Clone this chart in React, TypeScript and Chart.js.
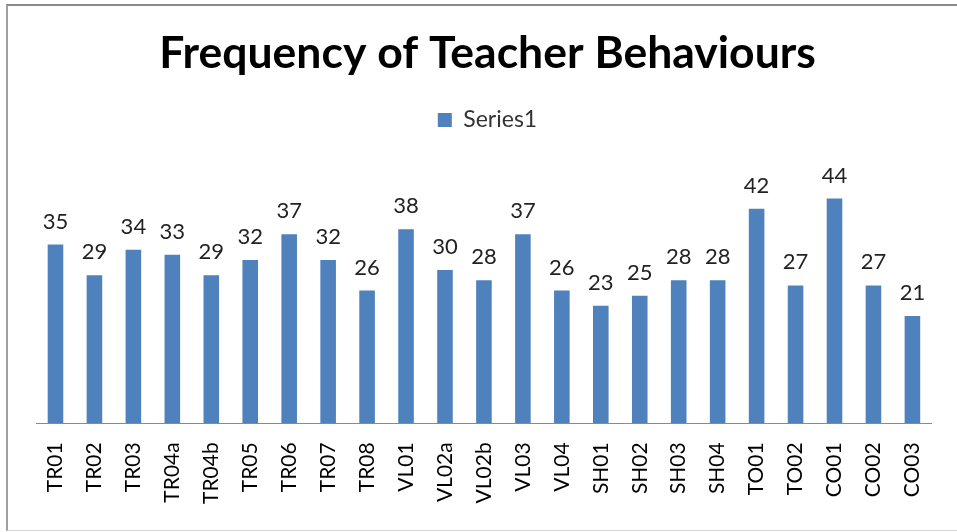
import React, { useEffect, useRef } from "react";
import { Chart, registerables } from "chart.js";

Chart.register(...registerables);

const categories = ["TR01","TR02","TR03","TR04a","TR04b","TR05","TR06","TR07","TR08","VL01","VL02a","VL02b","VL03","VL04","SH01","SH02","SH03","SH04","TO01","TO02","CO01","CO02","CO03"];
const series1 = [35,29,34,33,29,32,37,32,26,38,30,28,37,26,23,25,28,28,42,27,44,27,21];
const seriesName = "Series1";
const chartTitle = "Frequency of Teacher Behaviours";

const FONT = "Lato, 'Open Sans', sans-serif";

const dataLabels = {
  id: "dataLabels",
  afterDatasetsDraw(chart: any) {
    const ctx = chart.ctx;
    const meta = chart.getDatasetMeta(0);
    const ds = chart.data.datasets[0];
    ctx.save();
    ctx.font = `22px ${FONT}`;
    ctx.fillStyle = "#222";
    ctx.textAlign = "center";
    ctx.textBaseline = "alphabetic";
    meta.data.forEach((bar: any, i: number) => {
      ctx.fillText(String(ds.data[i]), bar.x, bar.y - 16);
    });
    ctx.restore();
  },
};

export default function App() {
  const ref = useRef<HTMLCanvasElement>(null);
  useEffect(() => {
    document.body.style.margin = "0";
    const chart = new Chart(ref.current!, {
      type: "bar",
      data: {
        labels: categories,
        datasets: [
          {
            label: seriesName,
            data: series1,
            backgroundColor: "#4F81BD",
            borderWidth: 0,
            barPercentage: 0.4,
            categoryPercentage: 1,
          },
        ],
      },
      options: {
        animation: false,
        responsive: false,
        devicePixelRatio: 1,
        layout: { padding: { left: 36, right: 18, top: 0, bottom: 9 } },
        plugins: {
          title: {
            display: true,
            text: chartTitle,
            color: "#000",
            font: { family: FONT, size: 44.5, weight: "bold" },
            padding: { top: 27, bottom: 18 },
          },
          legend: {
            display: true,
            labels: {
              color: "#333",
              font: { family: FONT, size: 23 },
              boxWidth: 14,
              boxHeight: 14,
              padding: 10,
            },
          },
          tooltip: { enabled: false },
        },
        scales: {
          x: {
            grid: { display: false, drawTicks: false },
            border: { display: true, color: "#8a8a8a", width: 1 },
            ticks: {
              color: "#000",
              font: { family: FONT, size: 21 },
              minRotation: 90,
              maxRotation: 90,
              padding: 19,
              autoSkip: false,
            },
          },
          y: { display: false, min: 0, max: 55.2 },
        },
      },
      plugins: [dataLabels],
    });
    return () => chart.destroy();
  }, []);
  return (
    <div style={{ position: "fixed", left: 0, top: 0, width: 957, height: 532, overflow: "hidden", background: "#fff" }}>
      <div
        style={{
          position: "absolute",
          left: 6,
          top: 4,
          width: 1000,
          height: 524,
          borderTop: "2px solid #8a8a8a",
          borderLeft: "2px solid #a0a0a0",
          borderBottom: "1px solid #d4d4d4",
        }}
      />
      <canvas ref={ref} width={957} height={532} style={{ position: "absolute", left: 0, top: 0, width: 957, height: 532 }} />
    </div>
  );
}
